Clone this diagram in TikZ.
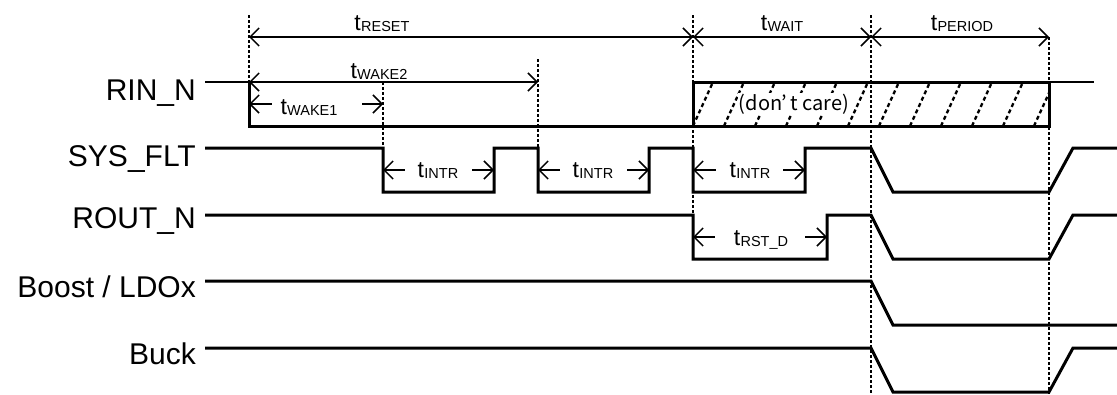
\documentclass[tikz,border=0pt]{standalone}
\usepackage{fontspec}
\setmainfont{Liberation Sans}
\newfontfamily\jpfont{Noto Sans CJK JP}
\usetikzlibrary{arrows.meta}
\newcommand\tsub[1]{t\kern0.3pt\raisebox{-1pt}{\fontsize{14.5}{14.5}\selectfont #1}}
\begin{document}
\begin{tikzpicture}[x=1pt,y=-1pt,
  sig/.style={line width=3pt},
  thinsig/.style={line width=1.8pt},
  barb/.tip={Straight Barb[length=9pt,width=18pt]},
  dimboth/.style={line width=1.5pt,{barb}-{barb}},
  dimleft/.style={line width=1.5pt,{barb}-},
  dimright/.style={line width=1.5pt,-{barb}},
  guide/.style={line width=1.3pt,dash pattern=on 3pt off 2pt},
  hatchline/.style={line width=2.3pt,dash pattern=on 4pt off 3pt},
  signame/.style={font=\fontsize{30}{30}\selectfont,anchor=base east,inner sep=0pt},
  tlabel/.style={font=\fontsize{23}{23}\selectfont,anchor=base,inner sep=0pt},
]
\useasboundingbox (0,0) rectangle (1117,394);

% hatching of don't care region
\begin{scope}
  \clip (693,82) rectangle (1049,126);
  \foreach \b in {0,...,12} \draw[hatchline] ({662+31*\b},126) -- ++(20,-44);
\end{scope}
\node[fill=white,inner sep=1pt,font=\jpfont\fontsize{20}{20}\selectfont] (dc) at (794,104) {(don’\kern3pt t care)};

% guide lines
\coordinate (g1a) at (249,15);  \coordinate (g1b) at (249,82);
\coordinate (g2a) at (383,82);  \coordinate (g2b) at (383,148);
\coordinate (g3a) at (538,59);  \coordinate (g3b) at (538,148);
\coordinate (g4a) at (693,15);  \coordinate (g4b) at (693,215);
\coordinate (g5a) at (871,15);  \coordinate (g5b) at (871,394);
\coordinate (g6a) at (1049,37); \coordinate (g6b) at (1049,394);
\foreach \g in {1,...,6} \draw[guide] (g\g a) -- (g\g b);

% signal names
\node[signame] (nrin)  at (196,100) {RIN\_N};
\node[signame] (nsys)  at (196,166) {SYS\_FLT};
\node[signame] (nrout) at (196,228) {ROUT\_N};
\node[signame] (nboost) at (196,297) {Boost / LDOx};
\node[signame] (nbuck) at (196,364) {Buck};

% RIN_N
\draw[thinsig] (205,82) -- (249,82);
\draw[sig] (249,82) -- (249,126) -- (1049,126) -- (1049,82) -- (693,82) -- (693,126);
\draw[thinsig] (1049,82) -- (1094,82);

% SYS_FLT
\draw[sig] (205,148) -- (383,148) -- (383,192) -- (494,192) -- (494,148) -- (538,148)
  -- (538,192) -- (649,192) -- (649,148) -- (693,148) -- (693,192) -- (805,192)
  -- (805,148) -- (871,148) -- (893,192) -- (1049,192) -- (1073,148) -- (1117,148);
% ROUT_N
\draw[sig] (205,215) -- (693,215) -- (693,259) -- (827,259) -- (827,215) -- (871,215)
  -- (893,259) -- (1049,259) -- (1073,215) -- (1117,215);
% Boost
\draw[sig] (205,281) -- (871,281) -- (893,325) -- (1117,325);
% Buck
\draw[sig] (205,348) -- (871,348) -- (893,392) -- (1049,392) -- (1073,348) -- (1117,348);

% dimension arrows
\draw[dimboth] (249,37) -- (693,37);
\draw[dimboth] (693,37) -- (871,37);
\draw[dimboth] (871,37) -- (1049,37);
\draw[dimboth] (249,82) -- (538,82);
\draw[dimleft] (249,104) -- (272,104);
\draw[dimright] (362,104) -- (383,104);
\draw[dimleft] (383,170) -- (405,170);
\draw[dimright] (472,170) -- (494,170);
\draw[dimleft] (538,170) -- (560,170);
\draw[dimright] (627,170) -- (649,170);
\draw[dimleft] (693,170) -- (716,170);
\draw[dimright] (783,170) -- (805,170);
\draw[dimleft] (693,237) -- (715,237);
\draw[dimright] (805,237) -- (827,237);

% time labels
\node[tlabel] (lreset) at (382,30) {\tsub{RESET}};
\node[tlabel] (lwait) at (782,30) {\tsub{WAIT}};
\node[tlabel] (lperiod) at (962,30) {\tsub{PERIOD}};
\node[tlabel] (lwake2) at (379,78) {\tsub{WAKE2}};
\node[tlabel] (lwake1) at (309,114) {\tsub{WAKE1}};
\node[tlabel] (lintr1) at (438,177) {\tsub{INTR}};
\node[tlabel] (lintr2) at (593,177) {\tsub{INTR}};
\node[tlabel] (lintr3) at (750,177) {\tsub{INTR}};
\node[tlabel] (lrst) at (761,245) {\tsub{RST\_D}};
\end{tikzpicture}
\end{document}
